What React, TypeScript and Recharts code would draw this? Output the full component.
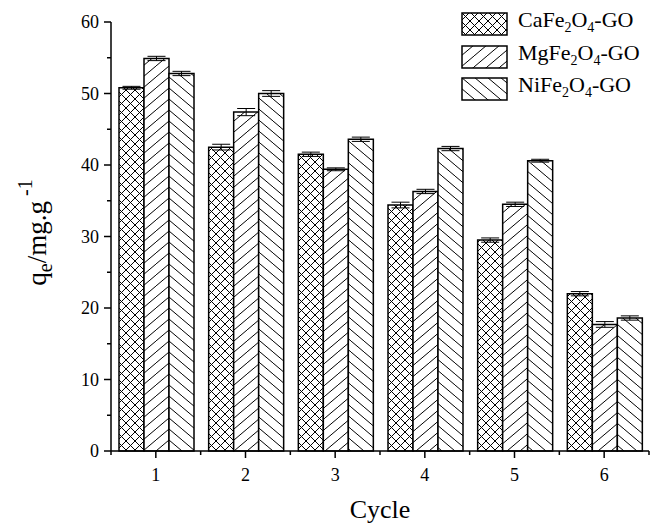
import { BarChart, Bar, XAxis, YAxis, ErrorBar, Legend } from "recharts";

const cycles = [1, 2, 3, 4, 5, 6];
const caFe = [50.8, 42.5, 41.5, 34.4, 29.5, 22.0];
const mgFe = [54.9, 47.4, 39.4, 36.3, 34.5, 17.7];
const niFe = [52.8, 50.0, 43.6, 42.3, 40.6, 18.6];
const caErr = [0.2, 0.4, 0.3, 0.4, 0.3, 0.3];
const mgErr = [0.3, 0.5, 0.2, 0.3, 0.3, 0.4];
const niErr = [0.3, 0.4, 0.3, 0.3, 0.2, 0.3];
const metals = ["Ca", "Mg", "Ni"];
// major + minor ticks (minor ones get no label)
const yTicks = [0, 5, 10, 15, 20, 25, 30, 35, 40, 45, 50, 55, 60];
const xTicks = [0.5, 1, 1.5, 2, 2.5, 3, 3.5, 4, 4.5, 5, 5.5, 6, 6.5];

const FONT = "'Liberation Serif', 'Times New Roman', serif";

const data = cycles.map((c, i) => ({
  cycle: c,
  ca: caFe[i], caErr: caErr[i],
  mg: mgFe[i], mgErr: mgErr[i],
  ni: niFe[i], niErr: niErr[i],
}));

const series = [
  { key: "ca", err: "caErr", fill: "url(#pat-ca)", metal: metals[0] },
  { key: "mg", err: "mgErr", fill: "url(#pat-mg)", metal: metals[1] },
  { key: "ni", err: "niErr", fill: "url(#pat-ni)", metal: metals[2] },
];

const LegendBox = () => (
  <div style={{ fontFamily: FONT, fontSize: 22, color: "#000" }}>
    {series.map((s) => (
      <div key={s.key} style={{ display: "flex", alignItems: "center", height: 32.5 }}>
        <svg width={47} height={24} style={{ display: "block" }}>
          <rect x={1} y={1} width={45} height={22} fill={s.fill} stroke="#000" strokeWidth={1.5} />
        </svg>
        <span style={{ marginLeft: 10, lineHeight: "20px", whiteSpace: "nowrap" }}>
          {s.metal}Fe<sub style={{ fontSize: 14 }}>2</sub>O<sub style={{ fontSize: 14 }}>4</sub>-GO
        </span>
      </div>
    ))}
  </div>
);

const Y_MARGIN = 12;
const renderYTick = (props: any) => {
  const { x, y, payload } = props;
  const ax = x + Y_MARGIN;
  const major = payload.value % 10 === 0;
  return (
    <g key={`yt-${payload.value}`}>
      <line x1={ax - (major ? 7 : 4)} x2={ax} y1={y} y2={y} stroke="#000" strokeWidth={1.5} />
      {major && (
        <text x={x} y={y} dy="0.35em" textAnchor="end" fontFamily={FONT} fontSize={18} fill="#000">
          {payload.value}
        </text>
      )}
    </g>
  );
};

const X_MARGIN = 17;
const renderXTick = (props: any) => {
  const { x, y, payload } = props;
  const ay = y - X_MARGIN;
  const major = Number.isInteger(payload.value);
  return (
    <g key={`xt-${payload.value}`}>
      <line x1={x} x2={x} y1={ay} y2={ay + (major ? 7 : 4)} stroke="#000" strokeWidth={1.5} />
      {major && (
        <text x={x} y={y} dy="0.72em" textAnchor="middle" fontFamily={FONT} fontSize={18} fill="#000">
          {payload.value}
        </text>
      )}
    </g>
  );
};

const YLabel = ({ viewBox }: any) => {
  const cx = viewBox.x + 46;
  const cy = viewBox.y + viewBox.height / 2 - 4;
  return (
    <text transform={`rotate(-90)`} x={-cy} y={cx} textAnchor="middle" fontFamily={FONT} fontSize={27} fill="#000">
      q<tspan dy={6} fontSize={20}>e</tspan>
      <tspan dy={-6} fontSize={27}>/mg.g</tspan>
      <tspan dy={-14} fontSize={20}> -1</tspan>
    </text>
  );
};

const XLabel = ({ viewBox }: any) => (
  <text x={viewBox.x + viewBox.width / 2} y={viewBox.y + 67} textAnchor="middle" fontFamily={FONT} fontSize={26} fill="#000">
    Cycle
  </text>
);

export default function App() {
  return (
    <div style={{ width: 658, height: 527, background: "#fff", fontFamily: FONT }}>
      <style>{`body{margin:0}`}</style>
      <BarChart width={658} height={527} data={data} margin={{ top: 22, right: 9, left: 0, bottom: 0 }}
        barCategoryGap={8} barGap={0}>
        <defs>
          <pattern id="pat-ca" patternUnits="userSpaceOnUse" width={9} height={9}>
            <rect width={9} height={9} fill="#fff" />
            <path d="M0,0L9,9M9,0L0,9" stroke="#000" strokeWidth={1} strokeLinecap="square" />
          </pattern>
          <pattern id="pat-mg" patternUnits="userSpaceOnUse" width={13} height={11}>
            <rect width={13} height={11} fill="#fff" />
            <path d="M0,11L13,0" stroke="#000" strokeWidth={1} strokeLinecap="square" />
          </pattern>
          <pattern id="pat-ni" patternUnits="userSpaceOnUse" width={13} height={11}>
            <rect width={13} height={11} fill="#fff" />
            <path d="M0,0L13,11" stroke="#000" strokeWidth={1} strokeLinecap="square" />
          </pattern>
        </defs>
        <XAxis dataKey="cycle" type="number" domain={[0.5, 6.5]} ticks={xTicks} interval={0} minTickGap={0}
          height={76} tickSize={0} tickMargin={X_MARGIN} tickLine={false} stroke="#000" strokeWidth={1.5}
          tick={renderXTick} label={<XLabel />} allowDataOverflow />
        <YAxis type="number" domain={[0, 60]} ticks={yTicks} interval={0} minTickGap={0} width={111} tickSize={0}
          tickMargin={Y_MARGIN} tickLine={false} stroke="#000" strokeWidth={1.5} tick={renderYTick}
          label={<YLabel />} />
        <Legend layout="vertical" align="center" verticalAlign="middle" content={<LegendBox />}
          wrapperStyle={{ top: 8, left: 461, width: 200 }} />
        {series.map((s) => (
          <Bar key={s.key} dataKey={s.key} fill={s.fill} stroke="#000" strokeWidth={1.5} isAnimationActive={false}>
            <ErrorBar dataKey={s.err} width={9} stroke="#000" strokeWidth={1} />
          </Bar>
        ))}
      </BarChart>
    </div>
  );
}
